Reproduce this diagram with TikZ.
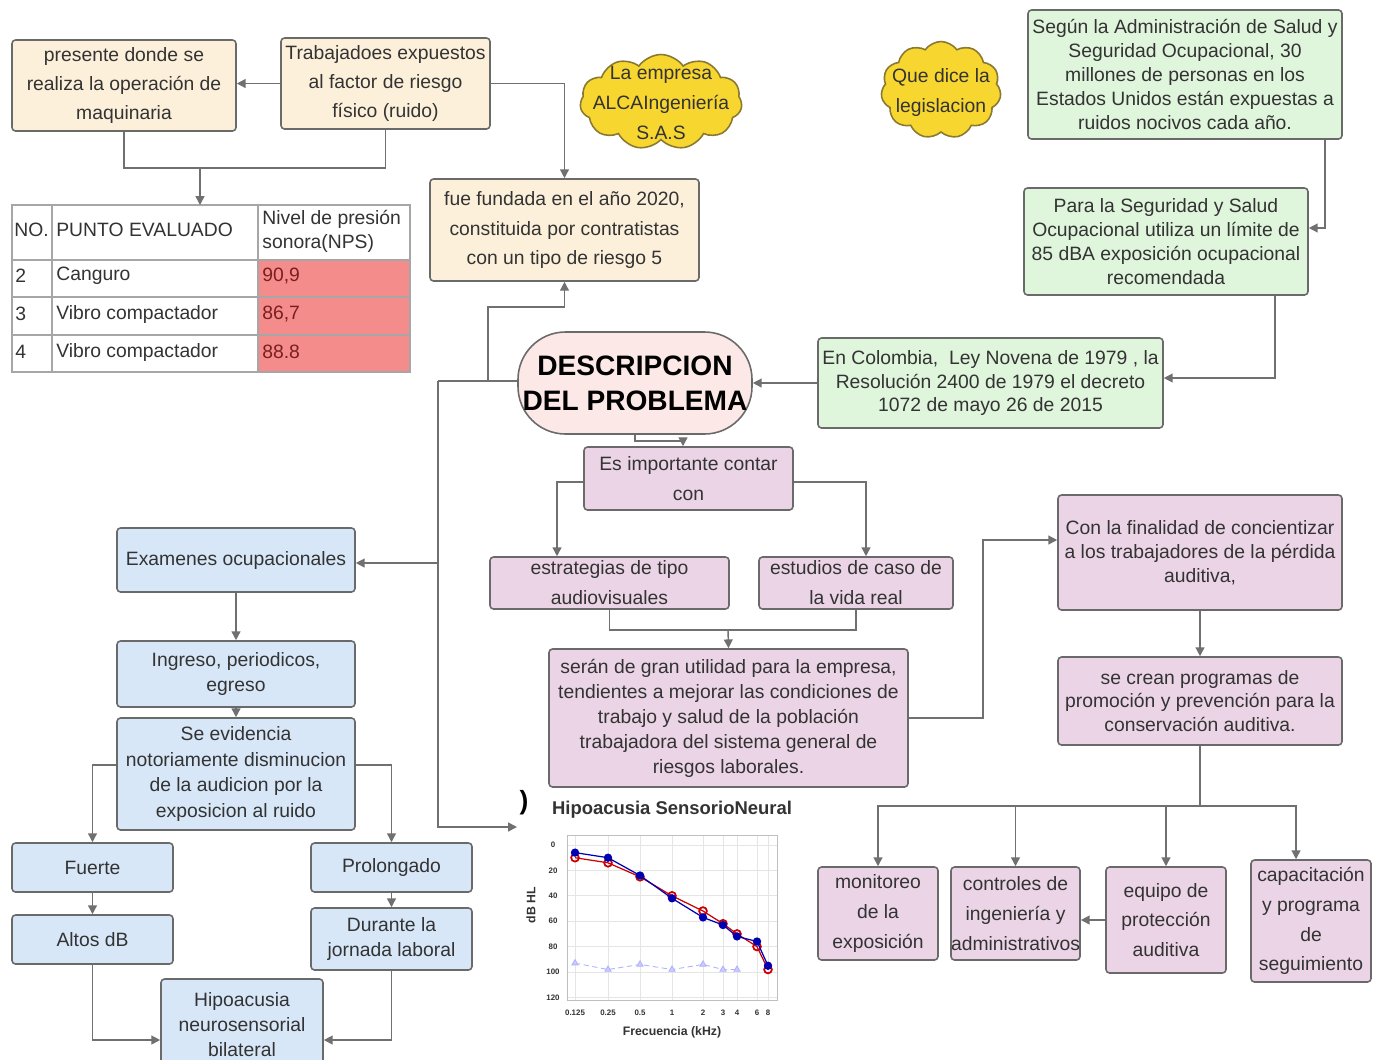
\documentclass[tikz,border=0pt]{standalone}
\usepackage{fontspec}
\setmainfont{Liberation Sans}
\usetikzlibrary{shapes.symbols,arrows.meta,plotmarks}

\definecolor{linegray}{HTML}{707070}
\definecolor{boxline}{HTML}{6A6A6A}
\definecolor{crema}{HTML}{FDF0DB}
\definecolor{verde}{HTML}{DFF5DC}
\definecolor{lila}{HTML}{EBD4E6}
\definecolor{azul}{HTML}{D7E7F8}
\definecolor{rosa}{HTML}{FCE8E6}
\definecolor{amarillo}{HTML}{F8D630}
\definecolor{nubeborde}{HTML}{8A7A30}
\definecolor{rojo}{HTML}{F58C8C}
\definecolor{valrojo}{HTML}{7A1F1F}
\definecolor{texto}{HTML}{333333}

\tikzset{
	caja/.style={draw=boxline, line width=0.9pt, rounded corners=2pt, align=center, inner sep=0pt, text=texto, font=\fontsize{11}{14}\selectfont},
	sz/.style 2 args={minimum width=#1*0.02cm, minimum height=#2*0.02cm},
	ls/.style={font=\fontsize{11}{#1}\selectfont},
	cremacaja/.style={caja, fill=crema},
	verdecaja/.style={caja, fill=verde},
	lilacaja/.style={caja, fill=lila},
	azulcaja/.style={caja, fill=azul},
	nube/.style={cloud, cloud puffs=11, cloud puff arc=110, draw=nubeborde, line width=0.9pt, fill=amarillo, inner sep=0pt, text=texto, font=\fontsize{11}{17}\selectfont},
	celda/.style={anchor=west, inner sep=0pt, align=left, text=texto, font=\fontsize{11}{13.6}\selectfont},
	tablagris/.style={draw=gray!70, line width=0.6pt},
	eje/.style={inner sep=0pt, text=texto, font=\fontsize{4.5}{5}\bfseries},
	conn/.style={draw=linegray, line width=0.8pt},
	arr/.style={conn, -{Triangle[length=5pt,width=5pt]}},
}

\begin{document}
\begin{tikzpicture}[x=0.02cm, y=-0.02cm]
	\useasboundingbox (0,0) rectangle (1385,1059);
	\clip (0,0) rectangle (1385,1059);
	\fill[white] (0,0) rectangle (1385,1059);
	%empresa
	\node[cremacaja, sz={224}{91}, ls=16.4] (pres) at (124,85.5) {presente donde se\\realiza la operación de\\maquinaria};
	\node[cremacaja, sz={209}{91}, ls=16.4] (trab) at (385.5,83.5) {Trabajadoes expuestos\\al factor de riesgo\\físico (ruido)};
	\node[cremacaja, sz={269}{102}, ls=17] (fund) at (564.5,230) {fue fundada en el año 2020,\\constituida por contratistas\\con un tipo de riesgo 5};
	\node[nube, minimum width=3.24cm, minimum height=1.9cm] (nube1) at (661,102) {\smash{\makebox[0pt]{\raisebox{-3.5pt}{\begin{tabular}{@{}c@{}}La empresa\\ALCAIngeniería\\S.A.S\end{tabular}}}}};
	\node[nube, minimum width=2.4cm, minimum height=1.94cm] (nube2) at (941,90) {\smash{\makebox[0pt]{\raisebox{-3.5pt}{\begin{tabular}{@{}c@{}}Que dice la\\legislacion\end{tabular}}}}};
	%tabla
	\coordinate (tabtop) at (200,205);
	\fill[rojo] (258,260) rectangle (410,372);
	\draw[tablagris] (12,205) rectangle (410,372);
	\foreach \y in {260,297,335}
	\draw[tablagris] (12,\y) -- (410,\y);
	\foreach \x in {52,258}
	\draw[tablagris] (\x,205) -- (\x,372);
	\node[celda] (h1) at (14,230) {NO.};
	\node[celda] (h2) at (56,230) {PUNTO EVALUADO};
	\node[celda] (h3) at (262,231) {Nivel de presión\\sonora(NPS)};
	\foreach \n/\nom/\val/\y [count=\i] in {
		2/Canguro/{90,9}/276,
		3/Vibro compactador/{86,7}/314,
		4/Vibro compactador/88.8/352
	}{
		\node[celda] (num\i) at (15,\y) {\n};
		\node[celda] (pto\i) at (56,\y) {\nom};
		\node[celda, text=valrojo] (nps\i) at (262,\y) {\val};
	}
	%legislacion
	\node[verdecaja, sz={314}{129}, ls=13.6] (segun) at (1185,74.5) {Según la Administración de Salud y\\Seguridad Ocupacional, 30\\millones de personas en los\\Estados Unidos están expuestas a\\ruidos nocivos cada año.};
	\node[verdecaja, sz={284}{107}, ls=13.6] (para) at (1166,241.5) {Para la Seguridad y Salud\\Ocupacional utiliza un límite de\\85 dBA exposición ocupacional\\recomendada};
	\node[verdecaja, sz={345}{90}, ls=13.6] (col) at (990.5,383) {En Colombia,\ \ Ley Novena de 1979 , la\\Resolución 2400 de 1979 el decreto\\1072 de mayo 26 de 2015};
	%centro
	\node[caja, fill=rosa, rounded corners=0.95cm, sz={234}{102}, text=black, font=\fontsize{16}{19.8}\bfseries] (desc) at (635,383) {DESCRIPCION\\DEL PROBLEMA};
	\node[lilacaja, sz={209}{63}, ls=17] (esimp) at (688.5,478.5) {Es importante contar\\con};
	\node[lilacaja, sz={239}{52}, ls=17] (estr) at (609.5,583) {estrategias de tipo\\audiovisuales};
	\node[lilacaja, sz={194}{52}, ls=17] (estu) at (856,583) {estudios de caso de\\la vida real};
	\node[lilacaja, sz={359}{138}, ls=14.2] (seran) at (728.5,718) {serán de gran utilidad para la empresa,\\tendientes a mejorar las condiciones de\\trabajo y salud de la población\\trabajadora del sistema general de\\riesgos laborales.};
	\node[lilacaja, sz={284}{115}, ls=13.6] (confin) at (1200,552.5) {Con la finalidad de concientizar\\a los trabajadores de la pérdida\\auditiva,};
	\node[lilacaja, sz={284}{88}, ls=13.6] (secrean) at (1200,701) {se crean programas de\\promoción y prevención para la\\conservación auditiva.};
	\node[lilacaja, sz={120}{93}, ls=17] (moni) at (878,913.5) {monitoreo\\de la\\exposición};
	\node[lilacaja, sz={129}{93}, ls=17] (contr) at (1015.5,913.5) {controles de\\ingeniería y\\administrativos};
	\node[lilacaja, sz={120}{106}, ls=17] (equi) at (1166,920) {equipo de\\protección\\auditiva};
	\node[lilacaja, sz={120}{122}, ls=17] (capa) at (1311,921) {capacitación\\y programa\\de\\seguimiento};
	%examenes
	\node[azulcaja, sz={238}{64}] (exam) at (236,560) {Examenes ocupacionales};
	\node[azulcaja, sz={238}{66}, ls=14.7] (ingr) at (236,674) {Ingreso, periodicos,\\egreso};
	\node[azulcaja, sz={238}{112}, ls=14.7] (seev) at (236,774) {Se evidencia\\notoriamente disminucion\\de la audicion por la\\exposicion al ruido};
	\node[azulcaja, sz={161}{49}] (fuer) at (92.5,867.5) {Fuerte};
	\node[azulcaja, sz={161}{49}] (alto) at (92.5,939.5) {Altos dB};
	\node[azulcaja, sz={161}{49}] (prol) at (391.5,867.5) {Prolongado};
	\node[azulcaja, sz={161}{62}, ls=14.2] (dura) at (391.5,939) {Durante la\\jornada laboral};
	\node[azulcaja, sz={162}{92}, ls=14.2] (hipo) at (242,1025) {Hipoacusia\\neurosensorial\\bilateral};
	%grafica
	\coordinate (chartin) at (517,827);
	\node[inner sep=0pt, text=black, font=\fontsize{15}{15}\bfseries] (paren) at (524,803) {)};
	\node[inner sep=0pt, text=texto, font=\fontsize{10.5}{12}\bfseries] (titulo) at (672,810) {Hipoacusia SensorioNeural};
	\foreach \x in {575,608,640,672,703,723,737,757,768}
	\draw[gray!20, line width=0.4pt] (\x,835) -- (\x,1000);
	\foreach \v in {0,20,...,120}
	\draw[gray!20, line width=0.4pt] (567,{845+1.27*\v}) -- (777,{845+1.27*\v});
	\draw[gray!50, line width=0.5pt] (567,835) rectangle (777,1000);
	\foreach \v [count=\i] in {0,20,...,120}
	\node[eje] (yl\i) at (553,{845+1.27*\v}) {\v};
	\foreach \x/\f [count=\i] in {575/0.125,608/0.25,640/0.5,672/1,703/2,723/3,737/4,757/6,768/8}
	\node[eje] (xl\i) at (\x,1013) {\f};
	\node[inner sep=0pt, rotate=90, text=texto, font=\fontsize{7}{8}\bfseries] (dbhl) at (531,905) {dB HL};
	\node[inner sep=0pt, text=texto, font=\fontsize{7}{8}\bfseries] (frec) at (672,1032) {Frecuencia (kHz)};
	%lavanda
	\draw[blue!30, densely dashed, line width=0.5pt] plot[mark=triangle*, mark size=2pt, mark options={solid, fill=blue!20}]
	coordinates{(575,963.1)
		(608,969.5)
		(640,964.4)
		(672,969.5)
		(703,964.4)
		(723,969.5)
		(737,969.5)
	};
	%rojo
	\draw[red!80!black, line width=0.7pt] plot[mark=o, mark size=2.2pt, mark options={line width=1pt}]
	coordinates{(575,857.7)
		(608,862.8)
		(640,876.8)
		(672,895.8)
		(703,911)
		(723,923.7)
		(737,933.9)
		(757,946.6)
		(768,969.5)
	};
	%azul
	\draw[blue!70!black, line width=0.7pt] plot[mark=*, mark size=2pt]
	coordinates{(575,852.6)
		(608,857.7)
		(640,875.5)
		(672,898.3)
		(703,917.4)
		(723,925)
		(737,936.4)
		(757,941.5)
		(768,965.7)
	};
	%conectores
	\coordinate (jn1) at (200,168);
	\draw[arr] (trab.west) -- (pres.east |- trab.west);
	\draw[conn] (pres.south) |- (jn1) -| (trab.south);
	\draw[arr] (jn1) -- (tabtop);
	\draw[arr] (trab.east) -| (fund.north);
	\draw[arr] (1325,0 |- segun.south) |- (para.east |- 0,228);
	\draw[arr] (1275,0 |- para.south) |- (col.east |- 0,378);
	\draw[arr] (col.west) -- (desc.east);
	\coordinate (trunk) at (438,381);
	\draw[conn] (desc.west |- trunk) -- (trunk);
	\draw[arr] (488,0 |- trunk) |- (fund.south |- 0,307) -- (fund.south);
	\draw[arr] (trunk) |- (chartin);
	\draw[arr] (trunk |- 0,563) -- (exam.east |- 0,563);
	\draw[arr] (desc.south) |- (683,441) -- (esimp.north -| 683,0);
	\draw[arr] (esimp.west |- 0,482) -| (estr.north -| 557,0);
	\draw[arr] (esimp.east |- 0,482) -| (estu.north -| 866,0);
	\draw[conn] (estr.south) |- (728,630) -| (estu.south);
	\draw[arr] (728,630) -- (seran.north);
	\draw[arr] (seran.east) -| (983,540) -- (983,540 -| confin.west);
	\draw[arr] (confin.south) -- (secrean.north);
	\coordinate (bus) at (1200,806);
	\draw[conn] (secrean.south) -- (bus);
	\foreach \n in {moni,contr,equi}
	\draw[arr] (bus) -| (\n.north);
	\draw[arr] (bus) -| (capa.north -| 1296,0);
	\draw[arr] (equi.west) -- (contr.east |- equi.west);
	\draw[arr] (exam.south) -- (ingr.north);
	\draw[arr] (ingr.south) -- (seev.north);
	\draw[arr] (seev.west |- 0,765) -| (fuer.north);
	\draw[arr] (seev.east |- 0,765) -| (prol.north);
	\draw[arr] (fuer.south) -- (alto.north);
	\draw[arr] (prol.south) -- (dura.north);
	\draw[arr] (alto.south) |- (hipo.west |- 0,1040);
	\draw[arr] (dura.south) |- (hipo.east |- 0,1040);
\end{tikzpicture}
\end{document}
